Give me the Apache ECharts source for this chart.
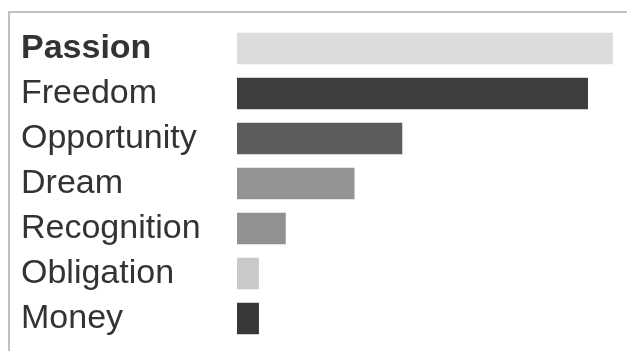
<!DOCTYPE html>
<html>
<head>
<meta charset="utf-8">
<script src="https://cdn.jsdelivr.net/npm/echarts@6/dist/echarts.min.js"></script>
<style>html,body{margin:0;padding:0;background:#fff;}#c{width:627px;height:351px;}</style>
</head>
<body>
<div id="c"></div>
<script>
var categories = ['Passion', 'Freedom', 'Opportunity', 'Dream', 'Recognition', 'Obligation', 'Money'];
var values = [77.1, 72.0, 33.9, 24.1, 10.0, 4.5, 4.5];
var barColors = ['#dcdcdc', '#3e3e3e', '#5c5c5c', '#939393', '#919191', '#c9c9c9', '#383838'];

var chart = echarts.init(document.getElementById('c'), null, {renderer: 'canvas'});
chart.setOption({
  animation: false,
  backgroundColor: '#ffffff',
  grid: {left: 237, top: 26, width: 394, height: 315, containLabel: false},
  xAxis: {type: 'value', min: 0, max: 80, show: false},
  yAxis: {
    type: 'category',
    data: categories,
    inverse: true,
    axisLine: {show: false},
    axisTick: {show: false},
    splitLine: {show: false},
    axisLabel: {
      align: 'left',
      margin: 216,
      fontFamily: 'Liberation Sans, Arial, sans-serif',
      fontSize: 34,
      color: '#333333',
      formatter: function (v) { return v === 'Passion' ? '{b|' + v + '}' : v; },
      rich: {b: {fontWeight: 'bold', fontSize: 34, fontFamily: 'Liberation Sans, Arial, sans-serif', color: '#333333'}}
    }
  },
  series: [{
    type: 'bar',
    barCategoryGap: '30%',
    data: values.map(function (v, i) { return {value: v, itemStyle: {color: barColors[i]}}; })
  }],
  graphic: [
    {type: 'line', shape: {x1: 8, y1: 12, x2: 627, y2: 12}, style: {stroke: '#c0c0c0', lineWidth: 2}},
    {type: 'line', shape: {x1: 9, y1: 11, x2: 9, y2: 351}, style: {stroke: '#c0c0c0', lineWidth: 2}}
  ]
});
</script>
</body>
</html>
